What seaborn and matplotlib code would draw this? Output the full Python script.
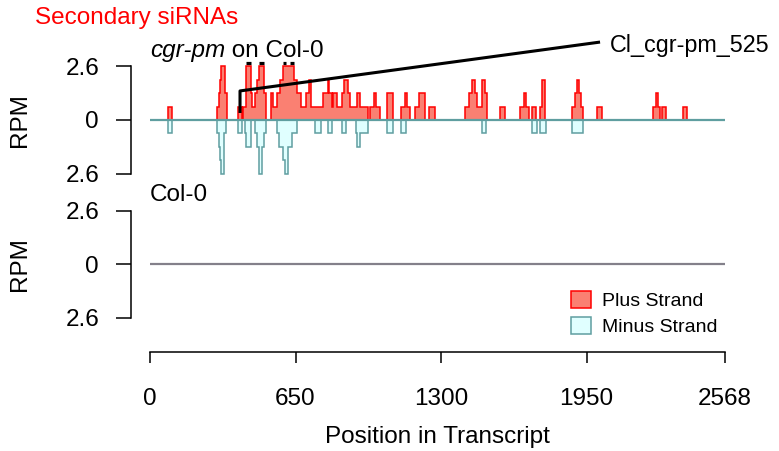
import numpy as np
import pandas as pd
import matplotlib
matplotlib.use("Agg")
import matplotlib.pyplot as plt
from matplotlib.patches import Patch
import seaborn as sns

sns.set_theme(style="white")
plt.rcParams["font.family"] = ["Liberation Sans", "DejaVu Sans"]
plt.rcParams["text.color"] = "black"
plt.rcParams["axes.labelcolor"] = "black"
plt.rcParams["xtick.color"] = "black"
plt.rcParams["ytick.color"] = "black"

# ---------------- data ----------------
TRANSCRIPT_LEN = 2568
x_ticks = [0, 650, 1300, 1950, 2568]
y_ticks = [-2.6, 0, 2.6]
y_tick_labels = ["2.6", "0", "2.6"]
Y_MAX = 2.6

plus_start = [80, 301, 307, 313, 319, 335, 395, 417, 429, 450, 456, 469, 477, 488, 509,
              539, 551, 566, 581, 595, 607, 623, 644, 655, 674, 695, 711, 718, 774, 794,
              799, 811, 819, 834, 856, 868, 886, 893, 923, 938, 983, 1002, 1009, 1057, 1060,
              1120, 1140, 1146, 1184, 1203, 1247, 1407, 1426, 1437, 1451, 1459, 1471, 1481, 1494,
              1563, 1651, 1672, 1678, 1705, 1742, 1749, 1883, 1898, 1907, 1918, 1927, 1995,
              2248, 2258, 2271, 2285, 2379]
plus_end = [100, 307, 313, 319, 335, 342, 409, 429, 450, 456, 469, 477, 488, 509, 518,
            551, 566, 581, 595, 607, 623, 644, 655, 674, 695, 711, 718, 774, 794, 799,
            811, 819, 834, 856, 868, 886, 893, 923, 938, 975, 1002, 1009, 1027, 1060, 1084,
            1140, 1146, 1161, 1203, 1228, 1273, 1426, 1437, 1451, 1459, 1471, 1481, 1494, 1504,
            1587, 1672, 1678, 1694, 1726, 1749, 1766, 1898, 1907, 1918, 1927, 1935, 2017,
            2258, 2271, 2276, 2306, 2400]
plus_rpm = [0.65, 0.65, 1.3, 1.95, 2.6, 1.3, 0.65, 0.65, 3.25, 1.3, 0.65, 1.3, 1.95, 3.25, 1.3,
            1.3, 0.65, 1.3, 1.95, 3.25, 2.6, 3.25, 1.95, 1.3, 0.65, 1.3, 1.95, 0.65, 1.3, 1.95,
            1.3, 0.65, 1.3, 0.65, 1.3, 1.95, 1.3, 0.65, 1.3, 0.65, 0.65, 1.3, 0.65, 0.65, 1.3,
            0.65, 1.3, 0.65, 0.65, 1.3, 0.65, 0.65, 1.3, 1.95, 1.3, 0.65, 0.65, 1.95, 1.3,
            0.65, 0.65, 1.3, 0.65, 0.65, 0.65, 1.95, 0.65, 1.3, 1.95, 1.3, 0.65, 0.65,
            0.65, 1.3, 0.65, 0.65, 0.65]

minus_start = [80, 301, 307, 313, 318, 332, 394, 426, 430, 469, 477, 487, 499, 509,
               566, 576, 595, 601, 616, 634, 737, 797, 856, 919, 923, 938, 1060, 1120,
               1481, 1705, 1742, 1883]
minus_end = [100, 307, 313, 318, 332, 338, 410, 430, 452, 477, 487, 499, 509, 518,
             576, 595, 601, 616, 634, 655, 764, 815, 875, 923, 938, 975, 1084, 1145,
             1501, 1728, 1767, 1935]
minus_rpm = [0.65, 0.65, 1.3, 1.95, 2.6, 0.65, 0.65, 0.65, 1.3, 0.65, 1.3, 2.6, 1.3, 0.65,
             0.65, 1.3, 1.95, 2.6, 1.3, 0.65, 0.65, 0.65, 0.65, 0.65, 1.3, 0.65, 0.65, 0.65,
             0.65, 0.65, 0.65, 0.65]

panel_titles = ["cgr-pm", " on Col-0", "Col-0"]
annot_label = "Cl_cgr-pm_525"
annot_x = [402, 402, 2010]
annot_y = [0.34, 1.41, 3.78]

PLUS_FACE, PLUS_EDGE = "#FA8072", "#FF0000"
MINUS_FACE, MINUS_EDGE = "#E0FFFF", "#5F9EA0"
FS = 17.5

# ---------------- figure ----------------
W, H = 779, 451
fig = plt.figure(figsize=(W / 100, H / 100), dpi=100)


def fx(px):
    return px / W


def fy(py):
    return 1 - py / H


ax_h = 113.4 / H
ax1 = fig.add_axes([fx(150), fy(176.7), 575 / W, ax_h])
ax2 = fig.add_axes([fx(150), fy(321.0), 575 / W, ax_h])


def draw_strand(ax, starts, ends, rpm, sign, face, edge):
    starts = np.asarray(starts, float)
    ends = np.asarray(ends, float)
    vals = np.minimum(np.asarray(rpm, float), Y_MAX) * sign
    edges = np.unique(np.concatenate([starts, ends]))
    heights, _ = np.histogram((starts + ends) / 2, bins=edges, weights=vals)
    ax.stairs(heights, edges, baseline=0, fill=True, facecolor=face,
              edgecolor=edge, linewidth=1.1)


draw_strand(ax1, plus_start, plus_end, plus_rpm, 1, PLUS_FACE, PLUS_EDGE)
draw_strand(ax1, minus_start, minus_end, minus_rpm, -1, MINUS_FACE, MINUS_EDGE)
ax1.axhline(0, color="#5F9EA0", lw=1.6, zorder=5)

# clipping indicators above bins exceeding the y-range
for s, e, v in zip(plus_start, plus_end, plus_rpm):
    if v > Y_MAX:
        ax1.hlines(Y_MAX + 0.17, s + 1, e - 1, color="black", lw=2.3, clip_on=False)

# annotation
ax1.plot(annot_x, annot_y, color="black", lw=2.2, clip_on=False, zorder=6,
         solid_capstyle="butt")
ax1.text(annot_x[-1] + 44, annot_y[-1] - 0.17, annot_label, fontsize=16.8,
         va="center", ha="left", clip_on=False)

# empty Col-0 panel
sns.lineplot(x=[0, TRANSCRIPT_LEN], y=[0, 0], color="#83808A", lw=1.6, ax=ax2)

for ax in (ax1, ax2):
    ax.set_xlim(0, TRANSCRIPT_LEN)
    ax.set_ylim(-2.75, 2.75)
    ax.set_xlabel("")
    ax.set_ylabel("")
    ax.set_facecolor("none")
    for sp in ("top", "right"):
        ax.spines[sp].set_visible(False)
    ax.spines["left"].set_position(("outward", 13.9))
    ax.spines["left"].set_bounds(-2.6, 2.6)
    ax.spines["left"].set_color("black")
    ax.spines["left"].set_linewidth(1.1)
    ax.set_yticks(y_ticks)
    ax.set_yticklabels(y_tick_labels)
    ax.tick_params(axis="y", direction="out", length=10.8, width=1.1, pad=12,
                   labelsize=FS, left=True, color="black", labelcolor="black")

ax1.spines["bottom"].set_visible(False)
ax1.set_xticks([])

ax2.spines["bottom"].set_position(("outward", 22.3))
ax2.spines["bottom"].set_bounds(0, TRANSCRIPT_LEN)
ax2.spines["bottom"].set_color("black")
ax2.spines["bottom"].set_linewidth(1.1)
ax2.set_xticks(x_ticks)
ax2.set_xticklabels([str(t) for t in x_ticks])
ax2.tick_params(axis="x", direction="out", length=8, width=1.1, pad=18,
                labelsize=FS, bottom=True, color="black", labelcolor="black")

# texts
fig.text(fx(35), fy(18), "Secondary siRNAs", color="red", fontsize=FS,
         va="center", ha="left")
t1 = fig.text(fx(150), fy(51), panel_titles[0], fontsize=FS, style="italic",
              va="center", ha="left")
ax1.annotate(panel_titles[1], xy=(1, 0.5), xycoords=t1, va="center", ha="left",
             fontsize=FS, annotation_clip=False)
fig.text(fx(150), fy(195), panel_titles[2], fontsize=FS, va="center", ha="left")
fig.text(fx(20), fy(120), "RPM", rotation=90, fontsize=FS, va="center", ha="center")
fig.text(fx(20), fy(264), "RPM", rotation=90, fontsize=FS, va="center", ha="center")
fig.text(fx(437), fy(437), "Position in Transcript", fontsize=FS, va="center",
         ha="center")

# legend
handles = [Patch(facecolor=PLUS_FACE, edgecolor=PLUS_EDGE, lw=1.1),
           Patch(facecolor=MINUS_FACE, edgecolor=MINUS_EDGE, lw=1.1)]
fig.legend(handles, ["Plus Strand", "Minus Strand"], loc="upper left",
           bbox_to_anchor=(fx(570.5), fy(290.5)), frameon=False, fontsize=14,
           handlelength=1.03, handleheight=1.0, handletextpad=0.57,
           labelspacing=0.35, borderpad=0, borderaxespad=0)

fig.savefig("out.png", dpi=100)
